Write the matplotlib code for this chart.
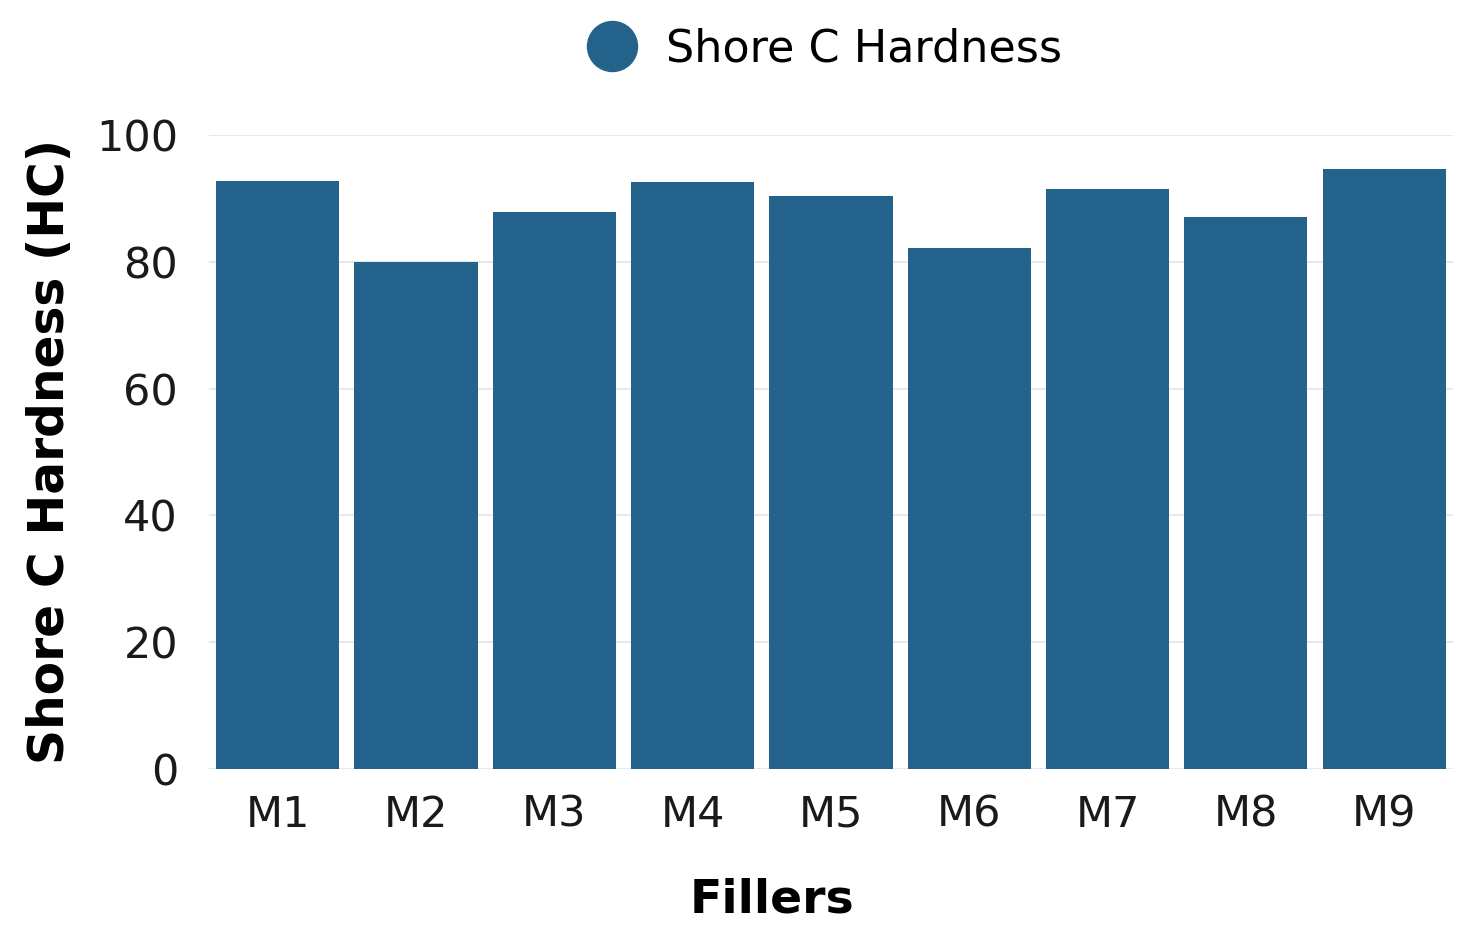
import matplotlib.pyplot as plt
import numpy as np

fillers = ['M1', 'M2', 'M3', 'M4', 'M5', 'M6', 'M7', 'M8', 'M9']
hardness = [92.7, 80.0, 87.8, 92.6, 90.4, 82.2, 91.5, 87.1, 94.7]

plt.rcParams['font.family'] = ['DejaVu Sans']

fig = plt.figure(figsize=(14.76, 9.44), dpi=100)
ax = fig.add_axes([0.1413, 0.1854, 0.8434, 0.6716])

x = np.arange(len(fillers))
ax.bar(x, hardness, width=0.89, color='#23628a', label='Shore C Hardness', zorder=2)

ax.set_xlim(-0.5, len(fillers) - 0.5)
ax.set_ylim(0, 100)
ax.set_yticks([0, 20, 40, 60, 80, 100])
ax.set_xticks(x)
ax.set_xticklabels(fillers)
ax.tick_params(axis='both', length=0, labelsize=31, colors='#1a1a1a')
ax.tick_params(axis='x', pad=18)
ax.tick_params(axis='y', pad=22)
ax.yaxis.grid(True, color='#e8e8e8', linewidth=1.5, zorder=0)
for s in ax.spines.values():
    s.set_visible(False)

ax.set_xlabel('Fillers', fontsize=34, fontweight='bold', labelpad=30)
ax.xaxis.label.set_x(0.453)
ax.set_ylabel('Shore C Hardness (HC)', fontsize=35, fontweight='bold', labelpad=16)

# legend as a circle marker above the plot
h = plt.Line2D([], [], marker='o', linestyle='none', markersize=36,
               markerfacecolor='#23628a', markeredgecolor='#23628a')
fig.legend([h], ['Shore C Hardness'], loc='center', bbox_to_anchor=(0.552, 0.948),
           frameon=False, fontsize=32, handletextpad=0.2)

fig.savefig('out.png', dpi=100)
